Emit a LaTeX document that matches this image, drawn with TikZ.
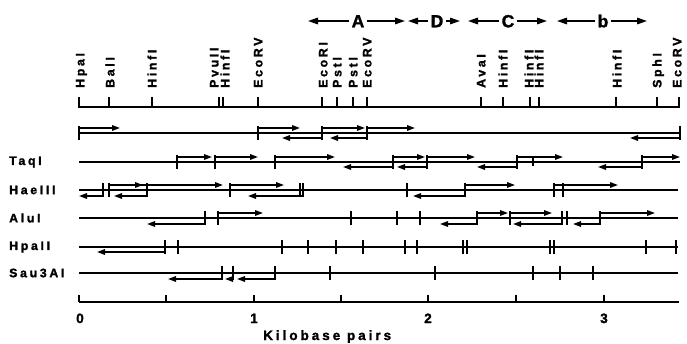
\documentclass[tikz,border=0pt]{standalone}
\usepackage{fontspec}
\newfontfamily\labfont[LetterSpace=22,BoldFeatures={FakeBold=1.6}]{Liberation Sans}
\usetikzlibrary{arrows.meta}
\begin{document}
\begin{tikzpicture}[x=1pt,y=-1pt,
  mapline/.style={line width=1.8pt},
  topline/.style={line width=2.6pt},
  tickline/.style={line width=1.6pt},
  rarr/.style={line width=1.5pt,-{Triangle[length=8pt,width=5.5pt]}},
  bigarr/.style={line width=1.6pt,-{Triangle[length=10pt,width=6.5pt]}},
  toplab/.style={rotate=90,anchor=west,inner sep=0pt,text height=8.8pt,text depth=0pt,font=\labfont\bfseries\fontsize{12.3}{13}\selectfont},
  rowlab/.style={anchor=west,inner sep=0pt,font=\labfont\bfseries\fontsize{12.3}{13}\selectfont},
  numlab/.style={anchor=base,inner sep=0pt,font=\labfont\bfseries\fontsize{13.5}{14}\selectfont},
  seglab/.style={inner sep=0pt,text height=12.5pt,text depth=0pt,font=\labfont\bfseries\fontsize{17.5}{18}\selectfont}
]
\useasboundingbox (0,0) rectangle (687,343);

% ---------- segment arrows on top ----------
\node[seglab] (sA) at (358,21) {A};
\node[seglab] (sD) at (437,21) {D};
\node[seglab] (sC) at (508,21) {C};
\node[seglab] (sb) at (603,21) {b};
\coordinate (aL) at (308,21); \coordinate (aR) at (405,21);
\coordinate (dL) at (408,21); \coordinate (dR) at (460,21);
\coordinate (cL) at (468,21); \coordinate (cR) at (547,21);
\coordinate (bL) at (557,21); \coordinate (bR) at (647,21);
\draw[bigarr] ([xshift=-2pt]sA.west) -- (aL);
\draw[bigarr] ([xshift=2pt]sA.east) -- (aR);
\draw[bigarr] ([xshift=-2pt]sD.west) -- (dL);
\draw[bigarr] ([xshift=2pt]sD.east) -- (dR);
\draw[bigarr] ([xshift=-2pt]sC.west) -- (cL);
\draw[bigarr] ([xshift=2pt]sC.east) -- (cR);
\draw[bigarr] ([xshift=-2pt]sb.west) -- (bL);
\draw[bigarr] ([xshift=2pt]sb.east) -- (bR);

% ---------- restriction map on top ----------
\draw[topline] (78,107) -- (680,107);
\foreach \x in {79,109,152,219,223,258,322,337,353,367,481,503,530,539,616,657,679}
  \draw[tickline] (\x,97) -- (\x,107);
\foreach \x/\t [count=\i] in {80/HpaI,110/BalI,152/HinfI,214/PvuII,225/HinfI,258/EcoRV,
  323/EcoRI,337/PstI,353/PstI,367/EcoRV,481/AvaI,503/HinfI,529/HinfI,539/HinfI,
  617/HinfI,657/SphI,677/EcoRV}
  \node[toplab] (t\i) at (\x,88) {\t};

% ---------- row 0 ----------
\draw[mapline] (79,133) -- (680,133);
\foreach \x in {79,258,322,367,680} \draw[tickline] (\x,126) -- (\x,140);
\foreach \a/\b in {79/120,258/300,322/365,367/415} \draw[rarr] (\a,128) -- (\b,128);
\foreach \a/\b in {322/282,367/330,680/630} \draw[rarr] (\a,138) -- (\b,138);

% ---------- TaqI ----------
\node[rowlab] (lTaq) at (9,162) {TaqI};
\draw[mapline] (79,162) -- (680,162);
\foreach \x in {177,215,275,393,427,517,642} \draw[tickline] (\x,155) -- (\x,169);
\draw[tickline] (533,157) -- (533,166);
\foreach \a/\b in {177/212,215/258,275/335,393/425,427/475,517/563,642/680} \draw[rarr] (\a,157) -- (\b,157);
\foreach \a/\b in {393/343,427/397,517/477,642/598} \draw[rarr] (\a,167) -- (\b,167);

% ---------- HaeIII ----------
\node[rowlab] (lHae) at (9,190) {HaeIII};
\draw[mapline] (79,190) -- (678,190);
\foreach \x in {103,109,147,230,300,303,407,465,554,563} \draw[tickline] (\x,183) -- (\x,197);
\foreach \a/\b in {109/143,109/223,230/284,465/515,554/618} \draw[rarr] (\a,185) -- (\b,185);
\foreach \a/\b in {103/79,147/114,302/248,465/413} \draw[rarr] (\a,196) -- (\b,196);

% ---------- AluI ----------
\node[rowlab] (lAlu) at (9,218) {AluI};
\draw[mapline] (79,218) -- (678,218);
\foreach \x in {205,218,351,397,420,477,510,562,567,600} \draw[tickline] (\x,211) -- (\x,225);
\foreach \a/\b in {218/263,477/508,510/552,600/655} \draw[rarr] (\a,213) -- (\b,213);
\foreach \a/\b in {205/147,477/440,562/513,600/573} \draw[rarr] (\a,224) -- (\b,224);

% ---------- HpaII ----------
\node[rowlab] (lHpa) at (9,247) {HpaII};
\draw[mapline] (79,247) -- (678,247);
\foreach \x in {165,178,282,308,336,363,405,417,463,467,550,554,646,676} \draw[tickline] (\x,240) -- (\x,254);
\draw[rarr] (165,252) -- (97,252);

% ---------- Sau3AI ----------
\node[rowlab] (lSau) at (9,273) {Sau3AI};
\draw[mapline] (79,273) -- (678,273);
\foreach \x in {222,233,275,330,435,533,560,593} \draw[tickline] (\x,266) -- (\x,280);
\foreach \a/\b in {222/168,233/225,275/237} \draw[rarr] (\a,279) -- (\b,279);

% ---------- scale ----------
\draw[mapline] (79,302) -- (679,302);
\foreach \x in {79,166,254,341,428,516,604} \draw[tickline] (\x,295) -- (\x,302);
\node[numlab] (n0) at (80,323) {0};
\node[numlab] (n1) at (254,323) {1};
\node[numlab] (n2) at (428,323) {2};
\node[numlab] (n3) at (604,323) {3};
\node[numlab,anchor=base west] (kb) at (263,340) {Kilobase pairs};
\end{tikzpicture}
\end{document}
